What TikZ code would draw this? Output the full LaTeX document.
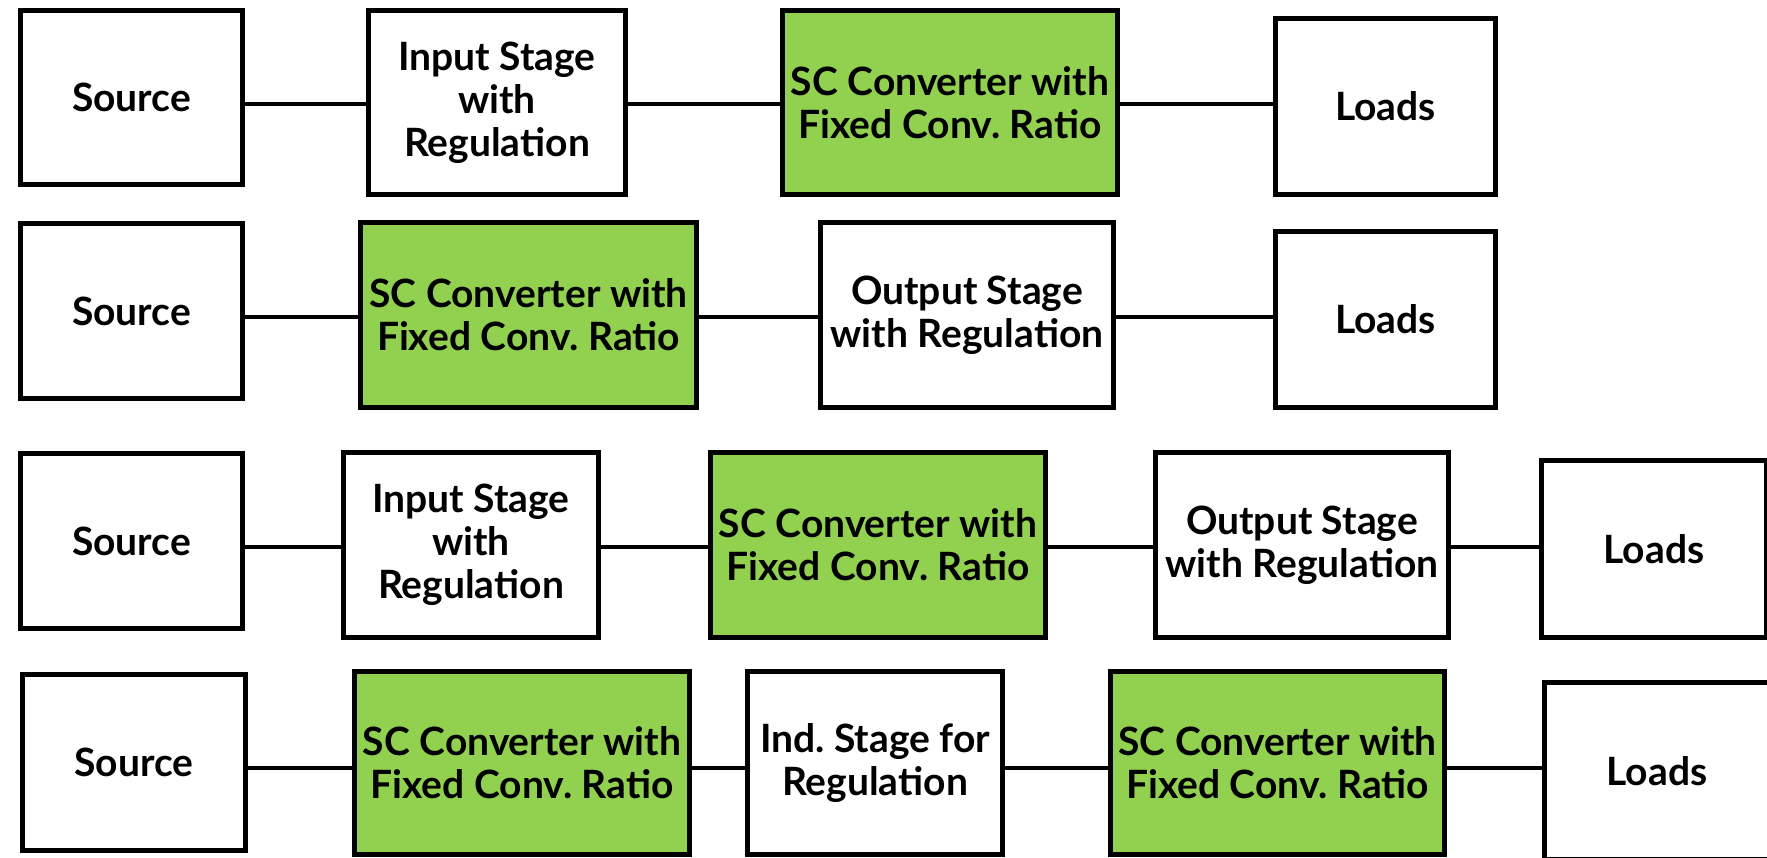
\documentclass[tikz,border=0pt]{standalone}
\usepackage{fontspec}
\setmainfont{Lato}
\frenchspacing
\definecolor{scgreen}{RGB}{146,208,80}
\tikzset{
  box/.style={draw=black, line width=5pt, fill=white, inner sep=0pt, align=center,
    font=\fontsize{39}{43}\selectfont\bfseries},
  scbox/.style={box, fill=scgreen},
  wire/.style={line width=4pt, draw=black}
}
\begin{document}
\begin{tikzpicture}[x=1pt, y=-1pt]
\useasboundingbox (0,0) rectangle (1767,857);
\clip (0,0) rectangle (1767,857);
% Row 1
\node[box, minimum width=222pt, minimum height=174pt] (s1) at (131.5,97.5) {Source};
\node[box, minimum width=257pt, minimum height=184pt] (i1) at (497,102.5) {Input Stage\\with\\Regulation};
\node[scbox, minimum width=335pt, minimum height=184pt] (c1) at (950,102.5) {SC Converter with\\Fixed Conv. Ratio};
\node[box, minimum width=220pt, minimum height=176pt] (l1) at (1385.5,106.5) {Loads};
\coordinate (r1) at (0,104);
% Row 2
\node[box, minimum width=222pt, minimum height=175pt] (s2) at (131.5,311) {Source};
\node[scbox, minimum width=336pt, minimum height=185pt] (c2) at (528.5,315) {SC Converter with\\Fixed Conv. Ratio};
\node[box, minimum width=293pt, minimum height=185pt] (o2) at (967,315) {Output Stage\\with Regulation};
\node[box, minimum width=220pt, minimum height=176pt] (l2) at (1385.5,319.5) {Loads};
\coordinate (r2) at (0,317);
% Row 3
\node[box, minimum width=222pt, minimum height=175pt] (s3) at (131.5,541) {Source};
\node[box, minimum width=255pt, minimum height=185pt] (i3) at (471,545) {Input Stage\\with\\Regulation};
\node[scbox, minimum width=335pt, minimum height=185pt] (c3) at (878,545) {SC Converter with\\Fixed Conv. Ratio};
\node[box, minimum width=293pt, minimum height=185pt] (o3) at (1302,545) {Output Stage\\with Regulation};
\node[box, minimum width=225pt, minimum height=177pt] (l3) at (1654,549) {Loads};
\coordinate (r3) at (0,547);
% Row 4
\node[box, minimum width=223pt, minimum height=176pt] (s4) at (134,762.5) {Source};
\node[scbox, minimum width=335pt, minimum height=183pt] (c4) at (522,763) {SC Converter with\\Fixed Conv. Ratio};
\node[box, minimum width=255pt, minimum height=183pt] (n4) at (875,763) {Ind. Stage for\\Regulation};
\node[scbox, minimum width=334pt, minimum height=183pt] (d4) at (1277.5,763) {SC Converter with\\Fixed Conv. Ratio};
\node[box, minimum width=225pt, minimum height=177pt] (l4) at (1657,771) {Loads};
\coordinate (r4) at (0,768);
% Connectors
\draw[wire] (s1.east |- r1) -- (i1.west |- r1);
\draw[wire] (i1.east |- r1) -- (c1.west |- r1);
\draw[wire] (c1.east |- r1) -- (l1.west |- r1);
\draw[wire] (s2.east |- r2) -- (c2.west |- r2);
\draw[wire] (c2.east |- r2) -- (o2.west |- r2);
\draw[wire] (o2.east |- r2) -- (l2.west |- r2);
\draw[wire] (s3.east |- r3) -- (i3.west |- r3);
\draw[wire] (i3.east |- r3) -- (c3.west |- r3);
\draw[wire] (c3.east |- r3) -- (o3.west |- r3);
\draw[wire] (o3.east |- r3) -- (l3.west |- r3);
\draw[wire] (s4.east |- r4) -- (c4.west |- r4);
\draw[wire] (c4.east |- r4) -- (n4.west |- r4);
\draw[wire] (n4.east |- r4) -- (d4.west |- r4);
\draw[wire] (d4.east |- r4) -- (l4.west |- r4);
\end{tikzpicture}
\end{document}
